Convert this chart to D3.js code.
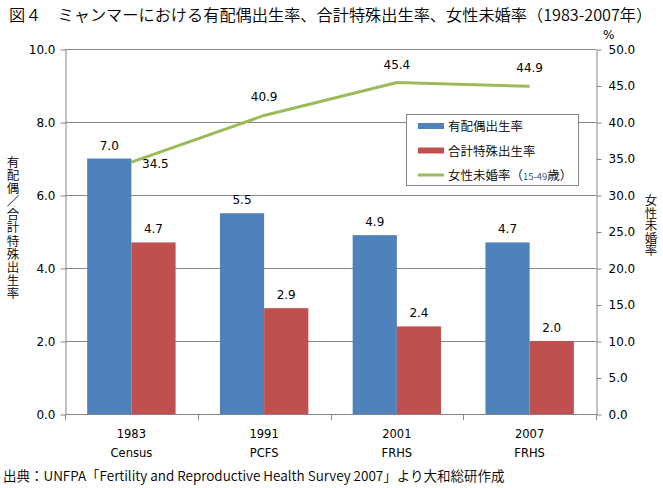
<!DOCTYPE html>
<html>
<head>
<meta charset="utf-8">
<script src="https://cdn.jsdelivr.net/npm/d3@7"></script>
<style>
  body { margin: 0; background: #fff; }
  svg text { font-family: "DejaVu Sans", "Noto Sans CJK JP", sans-serif; fill: #000; }
  svg text.jp { font-family: "Noto Sans CJK JP", sans-serif; font-weight: 350; }
</style>
</head>
<body>
<div id="chart"></div>
<script>
// data
var years = ["1983", "1991", "2001", "2007"];
var surveys = ["Census", "PCFS", "FRHS", "FRHS"];
var maritalFertility = [7.0, 5.5, 4.9, 4.7];
var totalFertility = [4.7, 2.9, 2.4, 2.0];
var unmarriedRate = [34.5, 40.9, 45.4, 44.9];
var leftTicks = [0, 2, 4, 6, 8, 10];
var rightTicks = [0, 5, 10, 15, 20, 25, 30, 35, 40, 45, 50];
var seriesNames = ["有配偶出生率", "合計特殊出生率", "女性未婚率"];

var blue = "#4f81bd", red = "#c0504d", green = "#9bbb59", axisGray = "#868686";

var W = 663, H = 488;
var plotLeft = 65, plotRight = 596, plotTop = 49, plotBottom = 414;

var svg = d3.select("#chart").append("svg")
    .attr("width", W)
    .attr("height", H);

// title
svg.append("text")
    .attr("class", "jp")
    .attr("x", 9)
    .attr("y", 21)
    .style("font-size", "16.2px")
    .text("図４　ミャンマーにおける有配偶出生率、合計特殊出生率、女性未婚率（1983-2007年）");

// scales
var x = d3.scaleBand().domain(d3.range(years.length)).range([plotLeft, plotRight]).padding(0);
var bw = x.bandwidth();
var x1 = d3.scaleBand().domain([0, 1]).range([bw * 0.167, bw * 0.833]).padding(0);
var yL = d3.scaleLinear().domain([0, 10]).range([plotBottom, plotTop]);
var yR = d3.scaleLinear().domain([0, 50]).range([plotBottom, plotTop]);

// gridlines
svg.append("g")
    .selectAll("line")
    .data(leftTicks.slice(1))
    .enter().append("line")
    .attr("x1", plotLeft).attr("x2", plotRight)
    .attr("y1", function(d) { return Math.round(yL(d)) + 0.5; })
    .attr("y2", function(d) { return Math.round(yL(d)) + 0.5; })
    .attr("stroke", axisGray);

// left axis
var gL = svg.append("g")
    .attr("transform", "translate(" + (plotLeft + 0.5) + ",0.5)")
    .call(d3.axisLeft(yL).tickValues(leftTicks).tickFormat(d3.format(".1f")).tickSize(5).tickSizeOuter(0).tickPadding(5));
// right axis
var gR = svg.append("g")
    .attr("transform", "translate(" + (plotRight + 0.5) + ",0.5)")
    .call(d3.axisRight(yR).tickValues(rightTicks).tickFormat(d3.format(".1f")).tickSize(5).tickSizeOuter(0).tickPadding(7));
[gL, gR].forEach(function(g) {
    g.select(".domain").attr("stroke", axisGray);
    g.selectAll(".tick line").attr("stroke", axisGray);
    g.selectAll(".tick text").style("font-size", "12px").attr("fill", "#000");
});

// x axis
svg.append("line")
    .attr("x1", plotLeft).attr("x2", plotRight + 1)
    .attr("y1", plotBottom + 0.5).attr("y2", plotBottom + 0.5)
    .attr("stroke", axisGray);
svg.append("g")
    .selectAll("line")
    .data(d3.range(years.length + 1))
    .enter().append("line")
    .attr("x1", function(d) { return Math.round(plotLeft + d * bw) + 0.5; })
    .attr("x2", function(d) { return Math.round(plotLeft + d * bw) + 0.5; })
    .attr("y1", plotBottom).attr("y2", plotBottom + 6)
    .attr("stroke", axisGray);

var xl = svg.append("g").selectAll("g")
    .data(years)
    .enter().append("g")
    .attr("transform", function(d, i) { return "translate(" + (x(i) + bw / 2) + ",0)"; });
xl.append("text")
    .attr("y", 438)
    .attr("text-anchor", "middle")
    .style("font-size", "11.5px")
    .text(function(d) { return d; });
xl.append("text")
    .attr("y", 457)
    .attr("text-anchor", "middle")
    .style("font-size", "11.5px")
    .text(function(d, i) { return surveys[i]; });

// bars
var groups = svg.append("g").selectAll("g")
    .data(years)
    .enter().append("g")
    .attr("transform", function(d, i) { return "translate(" + x(i) + ",0)"; });

[maritalFertility, totalFertility].forEach(function(series, s) {
    var color = s === 0 ? blue : red;
    groups.append("rect")
        .attr("x", x1(s))
        .attr("width", x1.bandwidth())
        .attr("y", function(d, i) { return yL(series[i]); })
        .attr("height", function(d, i) { return plotBottom - yL(series[i]); })
        .attr("fill", color);
    groups.append("text")
        .attr("x", x1(s) + x1.bandwidth() / 2)
        .attr("y", function(d, i) { return yL(series[i]) - 9; })
        .attr("text-anchor", "middle")
        .style("font-size", "12px")
        .text(function(d, i) { return series[i].toFixed(1); });
});

// line
var line = d3.line()
    .x(function(d, i) { return x(i) + bw / 2; })
    .y(function(d) { return yR(d); });
svg.append("path")
    .datum(unmarriedRate)
    .attr("fill", "none")
    .attr("stroke", green)
    .attr("stroke-width", 3)
    .attr("d", line);
svg.append("g").selectAll("text")
    .data(unmarriedRate)
    .enter().append("text")
    .attr("x", function(d, i) { return i === 0 ? x(i) + bw / 2 + 24 : x(i) + bw / 2; })
    .attr("y", function(d, i) { return i === 0 ? yR(d) + 6 : yR(d) - 14; })
    .attr("text-anchor", "middle")
    .style("font-size", "12px")
    .text(function(d) { return d.toFixed(1); });

// legend
var lg = svg.append("g").attr("transform", "translate(406,114)");
lg.append("rect")
    .attr("x", 0.5).attr("y", 0.5)
    .attr("width", 172).attr("height", 71)
    .attr("fill", "#fff")
    .attr("stroke", axisGray);
var rows = lg.selectAll("g.item")
    .data(seriesNames)
    .enter().append("g")
    .attr("class", "item")
    .attr("transform", function(d, i) { return "translate(12," + (12 + i * 24.5) + ")"; });
rows.append("rect")
    .attr("x", 0)
    .attr("y", function(d, i) { return i === 2 ? -1.5 : -3; })
    .attr("width", 26)
    .attr("height", function(d, i) { return i === 2 ? 3 : 6; })
    .attr("fill", function(d, i) { return [blue, red, green][i]; });
var lt = rows.append("text")
    .attr("class", "jp")
    .attr("x", 30)
    .attr("y", 5)
    .style("font-size", "12.5px")
    .text(function(d) { return d; });
lt.filter(function(d, i) { return i === 2; })
    .append("tspan").text("（");
lt.filter(function(d, i) { return i === 2; })
    .append("tspan").style("font-size", "9.5px").attr("fill", "#1f497d").text("15-49");
lt.filter(function(d, i) { return i === 2; })
    .append("tspan").text("歳）");

// axis titles (vertical writing)
svg.append("text")
    .attr("class", "jp")
    .attr("x", 13)
    .attr("y", 156)
    .style("writing-mode", "vertical-rl")
    .style("font-size", "12.5px")
    .style("letter-spacing", "0.6px")
    .text("有配偶／合計特殊出生率");

svg.append("text")
    .attr("class", "jp")
    .attr("x", 651)
    .attr("y", 194)
    .style("writing-mode", "vertical-rl")
    .style("font-size", "12.5px")
    .text("女性未婚率");

svg.append("text")
    .attr("x", 603)
    .attr("y", 39)
    .style("font-size", "12px")
    .text("%");

// source
svg.append("text")
    .attr("class", "jp")
    .attr("x", 3)
    .attr("y", 481)
    .style("font-size", "13.5px")
    .text("出典：UNFPA「Fertility and Reproductive Health Survey 2007」より大和総研作成");
</script>
</body>
</html>
